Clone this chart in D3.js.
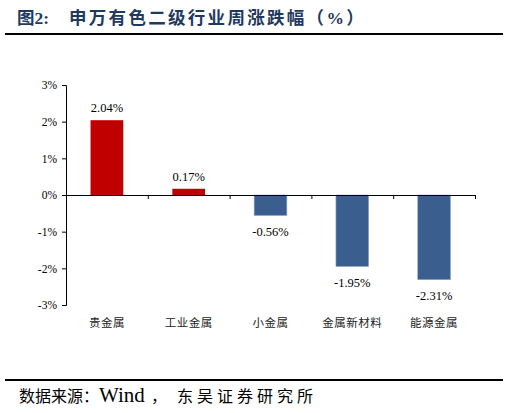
<!DOCTYPE html>
<html><head><meta charset="utf-8">
<script src="https://cdn.jsdelivr.net/npm/d3@7"></script>
<style>body{margin:0;background:#fff}svg{display:block}</style>
</head><body>
<svg id="c" width="522" height="413"></svg>
<script>
const categories = ["贵金属","工业金属","小金属","金属新材料","能源金属"];
const values = [2.04, 0.17, -0.56, -1.95, -2.31];
const yTicks = [3, 2, 1, 0, -1, -2, -3];
const titleParts = ["图2:", "申万有色二级行业周涨跌幅（%）"];
const sourceParts = ["数据来源：", "Wind", "，", "东吴证券研究所"];

const svg = d3.select("#c");
const serif = "'Liberation Serif','Times New Roman',serif";
const cjk = "'Noto Sans CJK SC',sans-serif";

const title = svg.append("text").attr("y",24)
  .attr("font-family",serif+","+cjk).attr("font-weight","bold")
  .attr("font-size",17.5).attr("fill","#1F3A5F");
title.append("tspan").attr("x",17).text(titleParts[0]);
title.append("tspan").attr("x",69).attr("letter-spacing",2.3).text(titleParts[1]);
svg.append("line").attr("x1",5).attr("x2",503).attr("y1",34).attr("y2",34)
  .attr("stroke","#000").attr("stroke-width",2);

const x = d3.scaleBand().domain(categories).range([66,475]).paddingInner(0.6).paddingOuter(0.3);
const y = d3.scaleLinear().domain([-3,3]).range([305,85]);

// y axis
const yAxis = d3.axisLeft(y).tickValues(yTicks).tickSize(4).tickFormat(d=>d+"%");
const gy = svg.append("g").attr("transform","translate(66,0)").call(yAxis);
gy.select(".domain").attr("stroke","#000");
gy.selectAll("text").attr("font-family",serif).attr("font-size",11.5).attr("fill","#000").attr("dx",-2);

// bars
svg.selectAll("rect.bar").data(values).join("rect").attr("class","bar")
  .attr("x",(d,i)=>x(categories[i])).attr("width",x.bandwidth())
  .attr("y",d=>y(Math.max(0,d))).attr("height",d=>Math.abs(y(d)-y(0)))
  .attr("fill",d=>d>=0?"#C00000":"#3A5F8F")
  .attr("stroke",d=>d>=0?"none":"#8FA8C8").attr("stroke-width",0.6);

// x axis at 0
const xa = d3.scaleLinear().domain([0,categories.length]).range([66,475]);
const gx = svg.append("g").attr("transform",`translate(0,${y(0)})`)
  .call(d3.axisBottom(xa).tickValues(d3.range(1,categories.length+1)).tickSize(4).tickFormat(""));
gx.select(".domain").attr("stroke","#000");

// value labels
svg.selectAll("text.val").data(values).join("text").attr("class","val")
  .attr("x",(d,i)=>x(categories[i])+x.bandwidth()/2)
  .attr("y",d=>d>=0? y(d)-8 : y(d)+20)
  .attr("text-anchor","middle").attr("font-family",serif).attr("font-size",12.5)
  .text(d=>d.toFixed(2)+"%");

// category labels
svg.selectAll("text.cat").data(categories).join("text").attr("class","cat")
  .attr("x",d=>x(d)+x.bandwidth()/2).attr("y",327)
  .attr("text-anchor","middle").attr("font-family",cjk).attr("font-size",11.5)
  .attr("letter-spacing",0.5).attr("fill","#222").text(d=>d);

svg.append("line").attr("x1",5).attr("x2",503).attr("y1",380).attr("y2",380)
  .attr("stroke","#000").attr("stroke-width",2);
const src = svg.append("text").attr("y",402)
  .attr("font-family",serif+","+cjk).attr("font-size",16).attr("fill","#000");
src.append("tspan").attr("x",19).text(sourceParts[0]);
src.append("tspan").attr("x",99).attr("font-size",21).text(sourceParts[1]);
src.append("tspan").attr("x",151).text(sourceParts[2]);
src.append("tspan").attr("x",177).attr("letter-spacing",4).text(sourceParts[3]);
</script>
</body></html>
